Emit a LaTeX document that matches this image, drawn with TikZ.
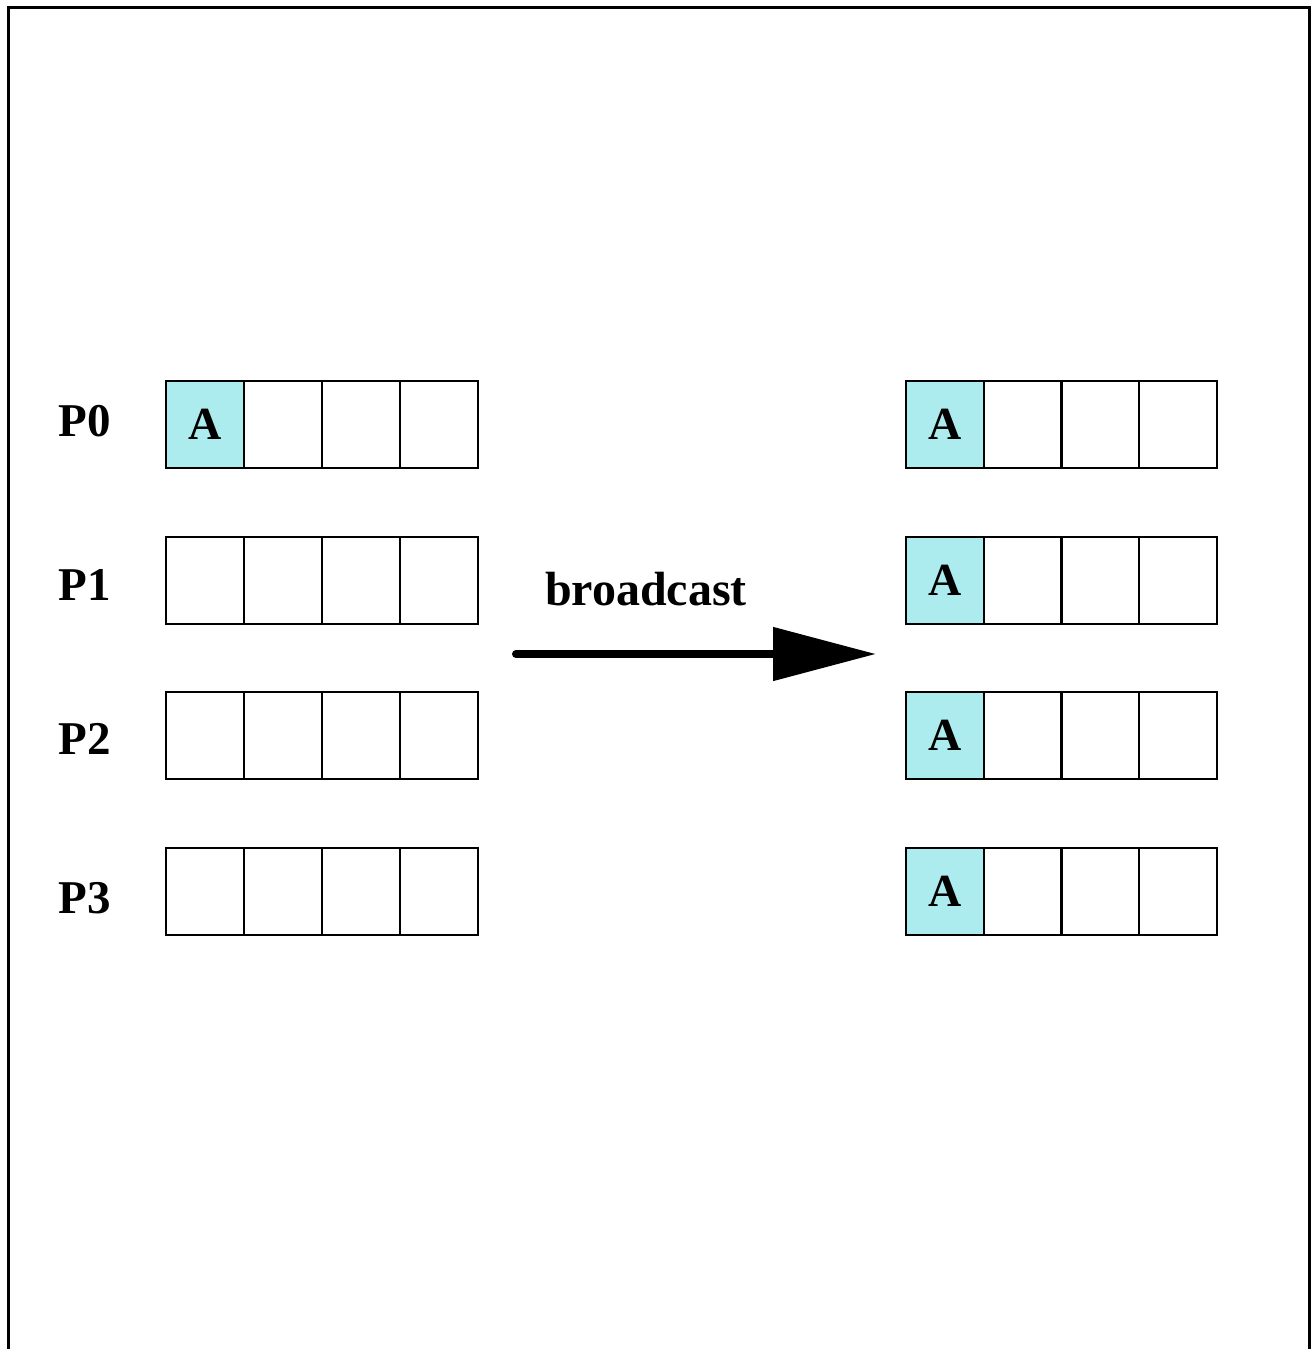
\documentclass[tikz,border=0pt]{standalone}
\usepackage{fontspec}
\setmainfont{Liberation Serif}
\usetikzlibrary{arrows.meta}
\definecolor{datafill}{RGB}{172,236,238}

\begin{document}
\begin{tikzpicture}[x=1pt, y=-1pt,
                    cell/.style={draw, line width=2pt, minimum width=78pt, minimum height=87pt,
                                 inner sep=0pt, outer sep=0pt},
                    full/.style={cell, fill=datafill, font=\fontsize{46}{46}\selectfont\bfseries},
                    proc/.style={anchor=base, font=\fontsize{47}{47}\selectfont\bfseries}]
  \useasboundingbox (0,0) rectangle (1315,1349);
  \draw[line width=3.5pt] (8.5,1349) |- (1309.5,7.5) -- (1309.5,1349);

  \foreach \r/\y/\b in {0/424.5/436, 1/580.5/600, 2/735.5/754, 3/891.5/913} {
    \node[proc] (p\r) at (85,\b) {P\r};
    \ifnum\r=0
      \node[full] (l\r-1) at (205,\y) {A};
    \else
      \node[cell] (l\r-1) at (205,\y) {};
    \fi
    \foreach \c/\x in {2/283, 3/361, 4/438.5}
      \node[cell] (l\r-\c) at (\x,\y) {};
    \node[full] (r\r-1) at (945,\y) {A};
    \foreach \c/\x in {2/1022.5, 3/1100, 4/1177.5}
      \node[cell] (r\r-\c) at (\x,\y) {};
  }

  \coordinate (src) at (516,654);
  \coordinate (dst) at (876,654);
  \draw[line width=8pt, line cap=round, -{Triangle[length=103pt, width=52pt]}] (src) -- (dst);
  \node[anchor=base, font=\fontsize{48}{48}\selectfont\bfseries] (bcast) at (646,605) {broadcast};
\end{tikzpicture}
\end{document}
